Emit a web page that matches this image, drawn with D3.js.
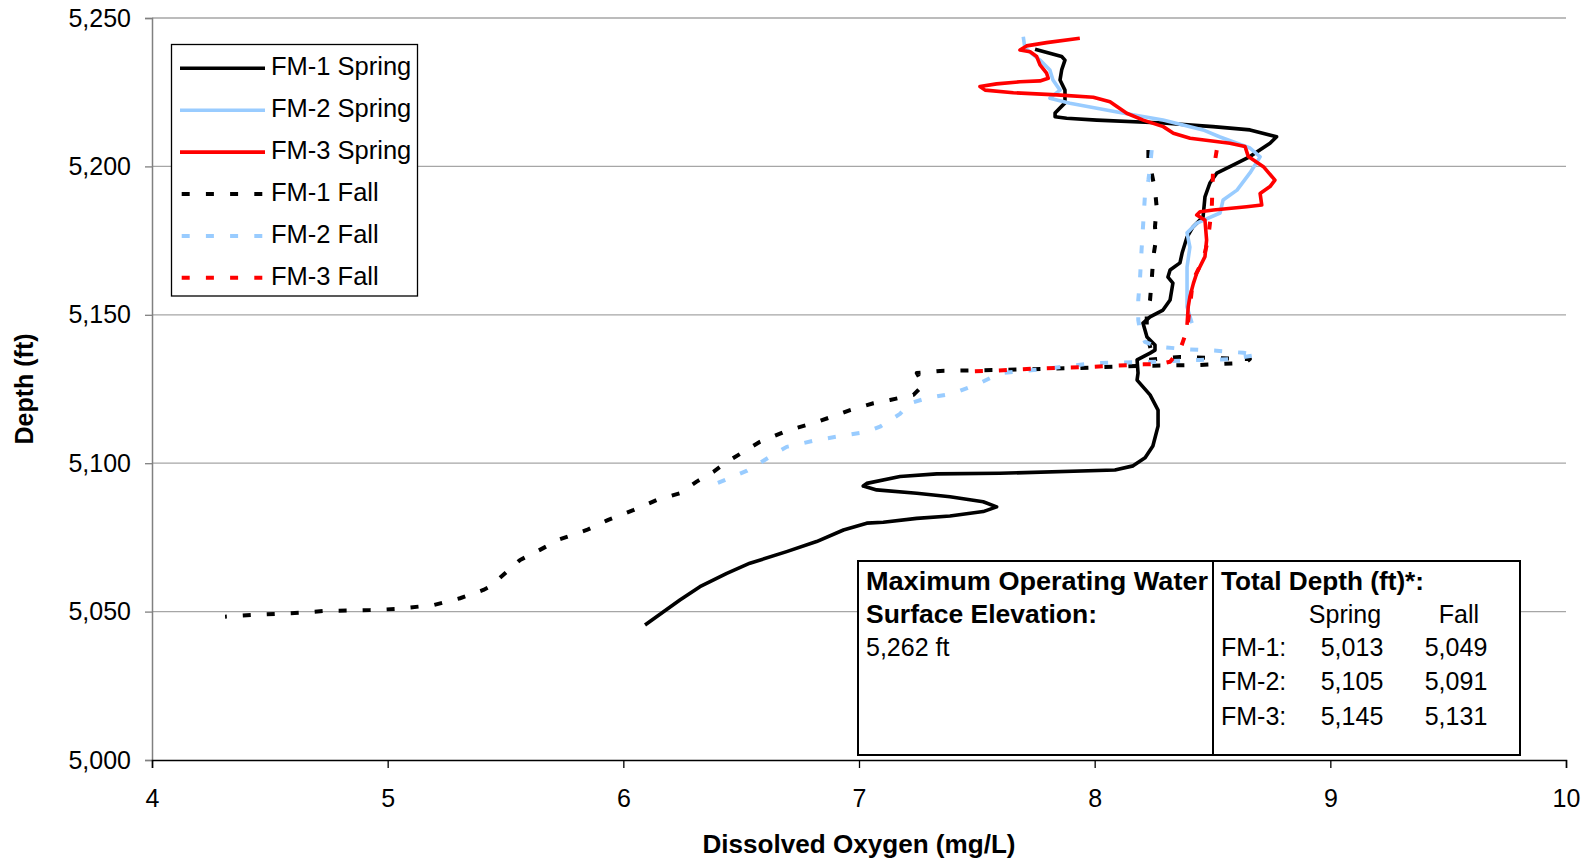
<!DOCTYPE html>
<html>
<head>
<meta charset="utf-8">
<script src="https://cdn.jsdelivr.net/npm/d3@7"></script>
<style>
  html, body { margin: 0; padding: 0; background: #fff; }
  svg { display: block; font-family: "Liberation Sans", Arial, sans-serif; }
</style>
</head>
<body>
<svg id="chart" width="1589" height="861"></svg>
<script>
// ---------- DATA ----------
const seriesNames = ["FM-1 Spring", "FM-2 Spring", "FM-3 Spring", "FM-1 Fall", "FM-2 Fall", "FM-3 Fall"];
const xTicks = [4, 5, 6, 7, 8, 9, 10];
const yTicks = [5000, 5050, 5100, 5150, 5200, 5250];

const fm1SpringDO = [7.747,7.860,7.874,7.860,7.853,7.874,7.874,7.832,7.832,7.881,8.009,8.290,8.502,8.659,8.772,8.744,8.659,8.574,8.518,8.489,8.468,8.460,8.417,8.392,8.371,8.362,8.320,8.311,8.332,8.320,8.290,8.235,8.205,8.222,8.256,8.256,8.235,8.180,8.184,8.180,8.235,8.269,8.269,8.247,8.214,8.163,8.086,7.598,7.330,7.174,7.033,7.018,7.075,7.245,7.386,7.527,7.584,7.527,7.386,7.245,7.103,7.033,6.934,6.820,6.693,6.537,6.439,6.325,6.240,6.092];
const fm1SpringDepth = [5239.5,5237.0,5235.8,5232.5,5229.1,5225.7,5221.4,5218.0,5216.7,5216.2,5215.6,5214.6,5213.4,5212.3,5210.0,5207.8,5203.3,5199.9,5197.7,5194.4,5189.7,5183.0,5179.6,5176.2,5170.8,5167.5,5165.1,5162.7,5160.7,5155.0,5151.6,5149.3,5147.2,5142.5,5139.8,5138.1,5137.1,5134.8,5130.4,5128.0,5123.0,5117.9,5112.5,5105.8,5101.8,5099.1,5097.7,5096.6,5096.4,5095.5,5093.2,5092.3,5091.0,5089.9,5088.7,5087.0,5085.3,5083.7,5082.2,5081.4,5080.1,5079.8,5077.5,5073.6,5070.2,5066.3,5062.9,5058.4,5053.9,5045.5];

const fm2SpringDO = [7.697,7.704,7.768,7.810,7.823,7.853,7.810,7.895,8.095,8.290,8.460,8.532,8.659,8.702,8.659,8.604,8.545,8.532,8.434,8.392,8.404,8.392,8.392,8.392,8.413];
const fm2SpringDepth = [5243.7,5239.9,5235.8,5232.5,5229.1,5225.7,5223.0,5221.3,5218.3,5215.6,5212.3,5209.9,5206.2,5203.2,5197.8,5192.0,5188.7,5184.3,5180.9,5177.6,5172.8,5166.1,5159.4,5152.6,5147.2];

const fm3SpringDO = [7.937,7.796,7.711,7.683,7.726,7.754,7.768,7.796,7.803,7.768,7.683,7.584,7.513,7.535,7.655,7.839,7.994,8.065,8.136,8.206,8.291,8.334,8.405,8.574,8.638,8.652,8.716,8.765,8.744,8.702,8.709,8.645,8.504,8.447,8.433,8.468,8.475,8.468,8.433,8.419,8.404,8.397,8.392];
const fm3SpringDepth = [5243.2,5241.7,5240.6,5239.2,5238.6,5237.0,5234.2,5231.4,5229.7,5228.8,5228.5,5227.8,5226.9,5225.7,5224.8,5224.1,5223.3,5221.8,5217.9,5215.6,5213.4,5211.2,5209.5,5207.8,5206.7,5203.3,5199.9,5195.4,5193.2,5190.9,5187.0,5186.4,5185.3,5184.7,5183.6,5181.9,5175.2,5169.6,5164.0,5160.6,5156.1,5152.7,5146.6];

const fm1FallDO = [8.228,8.228,8.242,8.256,8.263,8.256,8.260,8.249,8.242,8.235,8.221,8.221,8.228,8.242,8.221,8.362,8.510,8.659,8.638,8.447,8.192,7.937,7.598,7.344,7.245,7.273,7.231,7.132,7.061,6.962,6.905,6.806,6.693,6.580,6.509,6.439,6.382,6.311,6.240,6.142,6.042,5.936,5.845,5.731,5.646,5.562,5.505,5.434,5.406,5.307,5.194,5.038,4.925,4.727,4.628,4.430,4.310];
const fm1FallDepth = [5205.5,5202.2,5197.7,5192.1,5186.4,5179.7,5175.2,5169.6,5161.7,5155.0,5150.5,5146.0,5141.5,5137.0,5134.8,5135.8,5135.4,5135.1,5133.8,5133.1,5132.8,5132.1,5131.4,5131.1,5130.4,5126.4,5123.0,5121.3,5120.2,5117.9,5116.2,5113.5,5110.9,5107.2,5103.8,5100.4,5097.1,5093.8,5089.9,5087.6,5084.2,5080.9,5077.5,5074.4,5070.8,5067.4,5063.4,5058.4,5057.3,5054.5,5052.2,5050.9,5050.5,5050.2,5049.6,5048.9,5048.3];

const fm2FallDO = [8.242,8.235,8.228,8.213,8.206,8.199,8.192,8.185,8.185,8.192,8.213,8.263,8.390,8.518,8.631,8.688,8.574,8.447,8.263,7.993,7.783,7.598,7.513,7.400,7.287,7.216,7.174,7.089,7.033,6.948,6.820,6.693,6.622,6.580,6.523,6.396];
const fm2FallDepth = [5205.5,5199.9,5195.4,5189.8,5180.8,5171.8,5161.7,5155.0,5148.2,5144.9,5140.9,5139.3,5138.4,5137.9,5137.2,5136.5,5135.0,5134.8,5134.2,5133.7,5131.7,5130.3,5127.0,5123.5,5121.9,5120.2,5116.6,5112.3,5110.6,5109.5,5107.8,5105.5,5102.2,5100.1,5097.4,5093.2];

const fm3FallDO = [8.518,8.502,8.497,8.481,8.460,8.417,8.404,8.392,8.362,8.320,8.277,8.207,7.995,7.783,7.584,7.475];
const fm3FallDepth = [5205.5,5197.8,5186.3,5175.2,5168.5,5161.7,5152.6,5144.9,5138.1,5134.2,5133.4,5133.3,5132.5,5132.0,5131.2,5130.9];

const tableHeader = ["Maximum Operating Water", "Surface Elevation:", "5,262 ft"];
const tableTitle = "Total Depth (ft)*:";
const tableCols = ["Spring", "Fall"];
const tableRows = ["FM-1:", "FM-2:", "FM-3:"];
const tableSpring = ["5,013", "5,105", "5,145"];
const tableFall = ["5,049", "5,091", "5,131"];

// ---------- STYLE ----------
const colors = ["#000000", "#99ccff", "#ff0000", "#000000", "#99ccff", "#ff0000"];
const dashed = [false, false, false, true, true, true];

const series = [
  [fm1SpringDO, fm1SpringDepth], [fm2SpringDO, fm2SpringDepth], [fm3SpringDO, fm3SpringDepth],
  [fm1FallDO, fm1FallDepth], [fm2FallDO, fm2FallDepth], [fm3FallDO, fm3FallDepth]
].map(([xs, ys], i) => ({ name: seriesNames[i], pts: xs.map((v, j) => [v, ys[j]]) }));

const svg = d3.select("#chart");
const L = 152, R = 1566, T = 18, B = 760;
const x = d3.scaleLinear().domain([4, 10]).range([L, R]);
const y = d3.scaleLinear().domain([5000, 5250]).range([B, T]);
const FS = 25;

// gridlines
svg.append("g").selectAll("line").data(yTicks.filter(d => d !== 5000)).join("line")
  .attr("x1", L).attr("x2", R).attr("y1", d => y(d)).attr("y2", d => y(d))
  .attr("stroke", "#a6a6a6").attr("stroke-width", 1.3);

// y axis
const yAxis = svg.append("g").attr("transform", `translate(${L},0)`)
  .call(d3.axisLeft(y).tickValues(yTicks).tickFormat(d3.format(",")).tickSize(7).tickPadding(14));
yAxis.select(".domain").attr("stroke", "#808080").attr("stroke-width", 1.5);
yAxis.selectAll(".tick line").attr("stroke", "#808080").attr("stroke-width", 1.3);
yAxis.selectAll("text").attr("font-size", FS).attr("fill", "#000").attr("font-family", "Liberation Sans, Arial, sans-serif");

// x axis
const xAxis = svg.append("g").attr("transform", `translate(0,${B})`)
  .call(d3.axisBottom(x).tickValues(xTicks).tickFormat(d3.format("d")).tickSize(8).tickPadding(21));
xAxis.select(".domain").attr("stroke", "#000").attr("stroke-width", 1.5);
xAxis.selectAll(".tick line").attr("stroke", "#000").attr("stroke-width", 1.3);
xAxis.selectAll("text").attr("font-size", FS).attr("fill", "#000").attr("font-family", "Liberation Sans, Arial, sans-serif");

// titles
svg.append("text").attr("x", (L + R) / 2).attr("y", 844).attr("text-anchor", "middle")
  .attr("dominant-baseline", "central").attr("font-size", FS).attr("font-weight", "bold")
  .attr("textLength", 313).attr("lengthAdjust", "spacingAndGlyphs")
  .text("Dissolved Oxygen (mg/L)");
svg.append("text").attr("transform", `translate(24,${(T + B) / 2}) rotate(-90)`)
  .attr("text-anchor", "middle").attr("dominant-baseline", "central")
  .attr("font-size", FS).attr("font-weight", "bold").text("Depth (ft)");

// lines
const line = d3.line().x(d => x(d[0])).y(d => y(d[1]));
svg.append("g").selectAll("path").data(series).join("path")
  .attr("d", d => line(d.pts))
  .attr("fill", "none")
  .attr("stroke", (d, i) => colors[i])
  .attr("stroke-width", (d, i) => dashed[i] ? 4 : 3.6)
  .attr("stroke-linejoin", "round")
  .attr("stroke-dasharray", (d, i) => dashed[i] ? "8,16" : null);

// legend
const lg = svg.append("g");
lg.append("rect").attr("x", 171.5).attr("y", 44.5).attr("width", 246).attr("height", 251.5)
  .attr("fill", "#fff").attr("stroke", "#000").attr("stroke-width", 1.3);
const legendY0 = 68.3, legendDY = 41.9;
seriesNames.forEach((n, i) => {
  const yy = legendY0 + i * legendDY;
  lg.append("line").attr("x1", dashed[i] ? 181.7 : 180).attr("x2", dashed[i] ? 262.5 : 265)
    .attr("y1", yy).attr("y2", yy)
    .attr("stroke", colors[i]).attr("stroke-width", dashed[i] ? 4 : 3.6)
    .attr("stroke-dasharray", dashed[i] ? "8,16.2" : null);
  lg.append("text").attr("x", 271).attr("y", yy - 2).attr("dominant-baseline", "central")
    .attr("font-size", FS + 0.5).text(n);
});

// table box
const tb = svg.append("g");
const tL = 858, tR = 1520, tT = 561, tB = 755, tD = 1213;
tb.append("rect").attr("x", tL).attr("y", tT).attr("width", tR - tL).attr("height", tB - tT)
  .attr("fill", "#fff").attr("stroke", "#000").attr("stroke-width", 2);
tb.append("line").attr("x1", tD).attr("x2", tD).attr("y1", tT).attr("y2", tB)
  .attr("stroke", "#000").attr("stroke-width", 2);
const rowY = [580.7, 614, 647, 681, 715.5];
tb.append("text").attr("x", 866).attr("y", rowY[0]).attr("dominant-baseline", "central")
  .attr("font-size", FS + 1).attr("font-weight", "bold")
  .attr("textLength", 342).attr("lengthAdjust", "spacingAndGlyphs").text(tableHeader[0]);
tb.append("text").attr("x", 866).attr("y", rowY[1]).attr("dominant-baseline", "central")
  .attr("font-size", FS + 1).attr("font-weight", "bold")
  .attr("textLength", 231).attr("lengthAdjust", "spacingAndGlyphs").text(tableHeader[1]);
tb.append("text").attr("x", 866).attr("y", rowY[2]).attr("dominant-baseline", "central")
  .attr("font-size", FS).text(tableHeader[2]);
tb.append("text").attr("x", 1221).attr("y", rowY[0]).attr("dominant-baseline", "central")
  .attr("font-size", FS + 1).attr("font-weight", "bold")
  .attr("textLength", 203).attr("lengthAdjust", "spacingAndGlyphs").text(tableTitle);
const colX = [1345, 1459];
tableCols.forEach((c, i) => tb.append("text").attr("x", colX[i]).attr("y", rowY[1])
  .attr("text-anchor", "middle").attr("dominant-baseline", "central").attr("font-size", FS).text(c));
tableRows.forEach((r, i) => {
  const yy = rowY[2 + i];
  tb.append("text").attr("x", 1221).attr("y", yy).attr("dominant-baseline", "central").attr("font-size", FS).text(r);
  tb.append("text").attr("x", 1352).attr("y", yy).attr("text-anchor", "middle").attr("dominant-baseline", "central").attr("font-size", FS).text(tableSpring[i]);
  tb.append("text").attr("x", 1456).attr("y", yy).attr("text-anchor", "middle").attr("dominant-baseline", "central").attr("font-size", FS).text(tableFall[i]);
});
</script>
</body>
</html>
